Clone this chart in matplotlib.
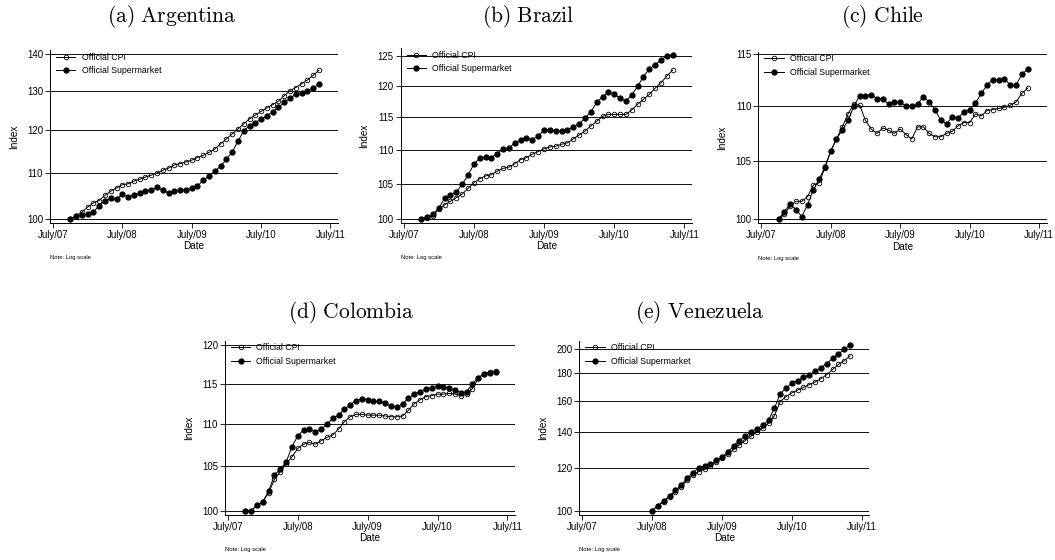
import numpy as np
import pandas as pd
import matplotlib
matplotlib.use("Agg")
import matplotlib.pyplot as plt

plt.rcParams["font.family"] = ["Liberation Sans", "DejaVu Sans"]
plt.rcParams["mathtext.fontset"] = "cm"

# monthly observations
months = pd.period_range("2007-10", "2011-05", freq="M")
months_ven = pd.period_range("2008-07", "2011-05", freq="M")

arg_cpi = [100.0, 100.7, 101.5, 102.5, 103.4, 103.9, 105.0, 105.9, 106.6, 107.3,
           107.5, 108.1, 108.5, 109.0, 109.4, 109.9, 110.5, 111.0, 111.7, 112.0,
           112.4, 112.8, 113.4, 113.9, 114.6, 115.4, 116.6, 117.8, 119.0, 120.2,
           121.5, 122.7, 123.7, 124.6, 125.5, 126.3, 127.2, 128.6, 130.0, 130.8,
           131.8, 132.8, 134.1, 135.5]
arg_super = [100.0, 100.7, 100.8, 101.0, 101.5, 102.8, 103.8, 104.4, 104.2, 105.2,
             104.7, 105.0, 105.4, 105.9, 106.2, 106.7, 106.1, 105.5, 105.9, 106.2,
             106.2, 106.5, 107.0, 108.3, 109.2, 110.3, 111.4, 113.0, 114.7, 117.2,
             119.8, 121.0, 121.8, 122.6, 123.5, 124.5, 125.6, 126.9, 128.0, 129.0,
             129.4, 129.9, 130.7, 131.7]

bra_cpi = [100.0, 100.2, 100.5, 101.4, 102.0, 102.5, 103.0, 103.5, 104.3, 105.1,
           105.7, 106.1, 106.3, 106.8, 107.2, 107.4, 107.9, 108.5, 108.8, 109.3,
           109.7, 110.1, 110.4, 110.5, 110.8, 111.0, 111.6, 112.2, 112.8, 113.6,
           114.3, 115.1, 115.4, 115.4, 115.4, 115.4, 116.1, 117.0, 117.8, 118.6,
           119.6, 120.5, 121.6, 122.6]
bra_super = [100.0, 100.3, 100.7, 101.5, 102.9, 103.4, 103.8, 104.9, 106.2, 107.8,
             108.7, 108.9, 108.8, 109.4, 110.1, 110.2, 111.0, 111.4, 111.7, 111.5,
             112.1, 112.9, 113.0, 112.8, 112.8, 112.9, 113.5, 113.9, 114.8, 115.8,
             117.3, 118.2, 119.0, 118.6, 118.0, 117.5, 118.5, 119.9, 121.5, 122.8,
             123.5, 124.3, 125.0, 125.2]

chl_cpi = [100.0, 100.4, 101.1, 101.5, 101.5, 101.9, 102.9, 103.1, 104.4, 105.9,
           107.0, 108.1, 109.3, 110.2, 110.1, 108.7, 107.9, 107.5, 108.0, 107.8,
           107.5, 107.9, 107.4, 107.0, 108.1, 108.1, 107.5, 107.2, 107.2, 107.5,
           107.7, 108.2, 108.5, 108.5, 109.3, 109.1, 109.6, 109.7, 109.8, 109.9,
           110.1, 110.4, 111.2, 111.7]
chl_super = [100.0, 100.6, 101.3, 100.8, 100.2, 101.2, 102.5, 103.4, 104.5, 105.9,
             107.0, 107.8, 108.7, 110.0, 111.0, 111.0, 111.1, 110.7, 110.7, 110.2,
             110.4, 110.4, 110.0, 110.0, 110.2, 110.9, 110.4, 109.7, 108.7, 108.4,
             109.0, 108.9, 109.5, 109.7, 110.3, 111.2, 112.0, 112.5, 112.5, 112.6,
             112.0, 112.0, 113.0, 113.5]

col_cpi = [100.0, 100.0, 100.6, 101.0, 102.0, 103.5, 104.4, 105.3, 106.1, 107.1,
           107.6, 107.8, 107.6, 108.0, 108.4, 108.7, 109.4, 110.3, 110.9, 111.2,
           111.2, 111.1, 111.1, 111.1, 111.0, 110.9, 110.9, 111.0, 111.7, 112.5,
           113.0, 113.4, 113.5, 113.7, 113.7, 113.8, 113.7, 113.5, 113.7, 114.4,
           115.7, 116.3, 116.5, 116.7]
col_super = [100.0, 100.0, 100.6, 101.0, 102.2, 104.0, 104.7, 105.5, 107.3, 108.6,
             109.3, 109.4, 109.1, 109.4, 110.0, 110.7, 111.1, 111.8, 112.4, 112.9,
             113.1, 113.0, 112.8, 112.8, 112.6, 112.2, 112.1, 112.5, 113.2, 113.7,
             114.0, 114.4, 114.5, 114.7, 114.6, 114.5, 114.2, 113.9, 114.0, 115.0,
             115.8, 116.3, 116.4, 116.5]

ven_cpi = [100.0, 102.2, 103.9, 106.2, 108.5, 110.8, 114.0, 116.5, 118.2, 119.4,
           121.1, 123.0, 125.5, 127.5, 130.0, 132.5, 135.0, 137.5, 140.0, 142.5,
           145.5, 150.0, 159.5, 163.0, 165.5, 167.5, 169.5, 171.5, 173.5, 176.0,
           179.0, 183.0, 187.0, 190.0, 194.0]
ven_super = [100.0, 102.2, 104.2, 106.5, 109.1, 111.7, 114.9, 117.7, 120.0, 121.0,
             122.0, 124.0, 126.0, 128.5, 132.0, 135.0, 137.5, 140.3, 142.0, 144.0,
             147.5, 155.0, 165.0, 169.0, 172.5, 174.5, 177.0, 179.0, 181.5, 184.5,
             187.5, 192.0, 195.5, 199.5, 203.5]

x_ticks = pd.period_range("2007-07", "2011-07", freq="12M")
x_tick_labels = ["July/07", "July/08", "July/09", "July/10", "July/11"]

titles = ["(a) Argentina", "(b) Brazil", "(c) Chile", "(d) Colombia", "(e) Venezuela"]
y_ticks = [
    [100, 110, 120, 130, 140],
    [100, 105, 110, 115, 120, 125],
    [100, 105, 110, 115],
    [100, 105, 110, 115, 120],
    [100, 120, 140, 160, 180, 200],
]


def mpos(periods):
    return np.array([(p.year - 2007) * 12 + p.month - 7 for p in periods])


W, H = 1055, 560
fig = plt.figure(figsize=(W / 100, H / 100), dpi=100)


def px_axes(l, t, r, b):
    return fig.add_axes([l / W, 1 - b / H, (r - l) / W, (b - t) / H])


panels = [
    (px_axes(50, 50, 338, 223), months, arg_cpi, arg_super, (99.25, 141.2), (172, 17)),
    (px_axes(400.7, 48.3, 692, 223), months, bra_cpi, bra_super, (99.5, 126.3), (528, 17)),
    (px_axes(758.3, 51.7, 1046.7, 223.3), months, chl_cpi, chl_super, (99.63, 115.2), (882, 17)),
    (px_axes(225, 340.7, 515, 515), months, col_cpi, col_super, (99.52, 120.6), (351, 313)),
    (px_axes(579.3, 340.7, 869.3, 515), months_ven, ven_cpi, ven_super, (98.16, 207.0), (700, 313)),
]

for k, (ax, per, cpi, sup, ylim, tpos) in enumerate(panels):
    x = mpos(per)
    ax.plot(x, cpi, color="black", lw=0.7, marker="o", ms=3.3,
            mfc="none", mec="black", mew=0.6, label="Official CPI")
    ax.plot(x, sup, color="black", lw=0.7, marker="o", ms=3.5,
            mfc="black", mec="black", label="Official Supermarket")

    ax.set_yscale("log")
    ax.set_ylim(*ylim)
    ax.set_yticks(y_ticks[k])
    ax.set_yticklabels([str(v) for v in y_ticks[k]])
    ax.yaxis.set_minor_locator(matplotlib.ticker.NullLocator())
    ax.set_xlim(-0.5, 49.3)
    ax.set_xticks(mpos(x_ticks))
    ax.set_xticklabels(x_tick_labels)

    ax.yaxis.grid(True, color="black", lw=0.65)
    ax.set_axisbelow(True)
    for s in ["top", "right"]:
        ax.spines[s].set_visible(False)
    for s in ["left", "bottom"]:
        ax.spines[s].set_linewidth(0.7)
    ax.tick_params(axis="both", labelsize=6.9, width=0.6, length=3.5, pad=1.5)

    ax.set_xlabel("Date", fontsize=7.2, labelpad=1)
    ax.set_ylabel("Index", fontsize=7.2)
    ax.yaxis.set_label_coords(-0.108, 0.5)

    ax.legend(loc="upper left", bbox_to_anchor=(0.0, 1.02), frameon=False,
              fontsize=6.3, handlelength=2.2, handletextpad=0.7,
              labelspacing=0.5, borderaxespad=0.3)

    ax.annotate("Note: Log scale", xy=(0, 0), xycoords="axes fraction",
                xytext=(0, -25), textcoords="offset points",
                fontsize=4.2, ha="left", va="center")

    name = titles[k].replace(" ", r"\ ")
    fig.text(tpos[0] / W, 1 - tpos[1] / H, r"$\mathrm{" + name + "}$",
             fontsize=15.5, ha="center", va="center")

fig.savefig("out.png", dpi=100)
